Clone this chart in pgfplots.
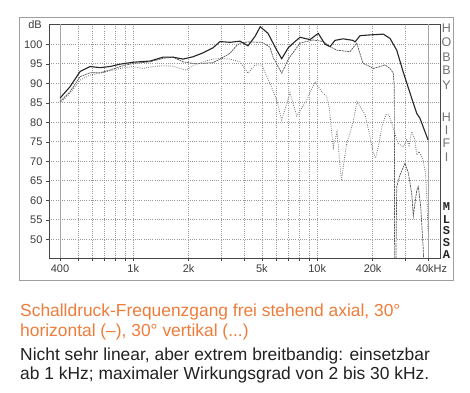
\documentclass[border=0pt]{standalone}
\usepackage{fontspec}
\setmainfont{Liberation Sans}
\newfontfamily\monob{Liberation Mono}
\usepackage{pgfplots}
\usepackage{pgfplotstable}
\pgfplotsset{compat=1.18}
\definecolor{hhorange}{RGB}{238,125,60}
\definecolor{txt}{RGB}{34,34,34}
\definecolor{lab}{RGB}{60,60,60}

\pgfplotstableread{
f db
400 86.2
453 89.1
514 93.0
582 94.3
660 94.0
748 94.3
848 94.9
1000 95.4
1234 95.7
1452 96.7
1645 96.7
1864 96.2
2113 96.8
2394 97.8
2714 99.1
2962 100.7
3358 100.5
3805 100.8
4204 99.6
4589 102.0
4900 104.5
5400 102.8
6024 98.5
6412 96.3
6936 99.0
7400 100.3
8061 101.8
9137 101.2
10133 102.8
11025 100.0
11733 99.4
12491 101.0
13805 101.4
15648 101.0
16048 100.6
17081 102.2
19357 102.4
22864 102.6
24864 101.5
27036 98.5
29365 92.8
31936 87.5
34723 82.3
36188 81.0
40000 75.5
}\axial

\pgfplotstableread{
f db
400 85.3
453 87.8
514 91.7
582 92.7
660 92.7
748 93.4
848 94.3
1000 95.1
1234 95.5
1452 96.4
1645 96.7
1864 95.5
2113 95.1
2394 95.1
2714 95.3
2962 96.2
3358 97.7
3620 99.5
3805 100.3
4204 100.6
4991 100.5
5400 99.6
5539 99.2
5772 96.5
6412 92.6
6936 96.0
7113 96.8
8061 100.3
9485 101.1
10793 100.7
11733 99.4
12757 98.5
15070 98.1
16392 100.3
17737 95.1
19357 94.3
20171 93.8
21937 94.3
23354 94.7
24864 93.8
25911 92.6
26236 89.0
26350 40
26700 40
27036 63.5
28173 66.5
29995 69.5
31261 67.0
32620 61.8
33278 56.0
34723 62.5
35428 63.5
36507 58.4
37717 47.3
38048 40
}\horiz

\pgfplotstableread{
f db
400 84.9
453 87.4
514 90.8
582 92.1
660 92.6
748 93.2
848 93.8
1000 94.3
1130 93.8
1281 94.3
1452 94.5
1645 94.4
1796 93.8
1936 93.4
2113 94.5
2394 95.5
2714 96.2
2962 96.4
3358 96.2
3805 95.5
4204 92.6
4589 94.7
4991 94.7
5539 90.0
6024 85.7
6412 80.6
7113 87.6
7736 81.6
8768 85.7
9725 90.4
10580 87.8
11260 86.6
11588 84.0
11983 77.5
12227 73.5
12491 75.5
12806 77.5
13131 72.0
13551 65.0
13979 70.0
14515 75.0
15070 77.2
15648 80.0
16453 85.3
18187 82.0
19119 77.5
20092 72.5
20735 70.8
21532 74.0
22494 79.0
23648 82.0
24553 81.8
25493 79.5
26469 77.0
27483 74.6
29365 73.7
30640 75.5
31535 74.0
32620 77.6
33993 75.5
34723 71.6
35740 72.5
36971 71.2
37717 69.9
38768 67.0
39505 60.0
40000 52.0
}\vert

\begin{document}
\begin{tikzpicture}
\useasboundingbox (0,0) rectangle (470pt,392pt);
\fill[white] (0,0) rectangle (470pt,392pt);
\draw[gray!75, line width=0.9pt] (19pt,112pt) rectangle (453pt,375pt);
\begin{axis}[
  at={(49pt,134pt)}, anchor=south west,
  scale only axis, width=391pt, height=234pt,
  xmode=log, log basis x=10,
  xmin=348.5, xmax=46480, ymin=45.2, ymax=105.2,
  xtick={1000,2000,5000,10000,20000},
  xticklabels={1k,2k,5k,10k,20k},
  minor xtick={500,600,700,800,900,3000,4000,6000,7000,8000,9000,30000},
  extra x ticks={400,40000},
  extra x tick labels={400,\hspace*{7pt}40kHz},
  extra x tick style={major grid style={solid, gray!70, line width=0.7pt}},
  ytick={50,55,...,100},
  grid=both,
  major grid style={gray!80, line width=0.6pt, dash pattern=on 0.9pt off 1.3pt},
  minor grid style={gray!80, line width=0.6pt, dash pattern=on 0.9pt off 1.3pt},
  axis line style={gray!55!black, line width=0.8pt},
  tick style={gray!55!black, line width=0.5pt},
  tick align=outside, major tick length=3pt, minor tick length=3pt,
  xtick pos=bottom, ytick pos=left,
  tick label style={font=\fontsize{11}{12}\selectfont, text=lab},
  /pgf/number format/assume math mode=true,
  clip=true,
]
\addplot[gray!85!black, line width=0.8pt, dash pattern=on 0.8pt off 1.4pt] table[x=f,y=db] {\vert};
\addplot[black!65, line width=0.7pt, dash pattern=on 2pt off 0.7pt] table[x=f,y=db] {\horiz};
\addplot[black!85, line width=1.1pt] table[x=f,y=db] {\axial};
\end{axis}
\node[text=lab, font=\fontsize{11}{12}\selectfont] at (35pt,367pt) {dB};
\foreach \l/\y in {H/363.7,O/350.3,B/335.3,B/322,Y/307,H/275.3,I/262,F/248.7,I/235.3}
  \node[text=black!55, font=\fontsize{12.5}{13}\selectfont] at (446.5pt,\y pt) {\l};
\foreach \l/\y in {M/185.3,L/172.5,S/161,S/149.5,A/137.5}
  \node[text=black!85, font=\monob\bfseries\fontsize{12}{13}\selectfont] at (446.5pt,\y pt) {\l};
\node[anchor=base west, inner sep=0pt, text=hhorange, font=\fontsize{17.4}{20}\selectfont] at (20pt,75.3pt) {Schalldruck-Frequenzgang frei stehend axial, 30°};
\node[anchor=base west, inner sep=0pt, text=hhorange, font=\fontsize{17.4}{20}\selectfont] at (20pt,55.3pt) {horizontal (--), 30° vertikal (...)};
\node[anchor=base west, inner sep=0pt, text=txt, font=\fontsize{17.4}{20}\selectfont] at (20pt,31.5pt) {Nicht sehr linear, aber extrem breitbandig: einsetzbar};
\node[anchor=base west, inner sep=0pt, text=txt, font=\fontsize{17.4}{20}\selectfont] at (20pt,12.5pt) {ab 1 kHz; maximaler Wirkungsgrad von 2 bis 30 kHz.};
\end{tikzpicture}
\end{document}
